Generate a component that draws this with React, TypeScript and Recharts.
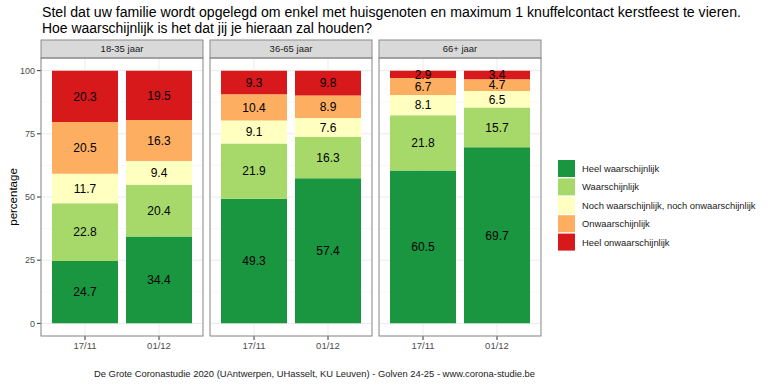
import { BarChart, Bar, XAxis, YAxis, CartesianGrid, LabelList } from 'recharts';

const ageGroups = ['18-35 jaar', '36-65 jaar', '66+ jaar'];
const waves = ['17/11', '01/12'];

// values per age group, [17/11, 01/12]
const heelWaarschijnlijk = [[24.7, 34.4], [49.3, 57.4], [60.5, 69.7]];
const waarschijnlijk = [[22.8, 20.4], [21.9, 16.3], [21.8, 15.7]];
const noch = [[11.7, 9.4], [9.1, 7.6], [8.1, 6.5]];
const onwaarschijnlijk = [[20.5, 16.3], [10.4, 8.9], [6.7, 4.7]];
const heelOnwaarschijnlijk = [[20.3, 19.5], [9.3, 9.8], [2.9, 3.4]];

const yTicks = [0, 25, 50, 75, 100];
const minorTicks = [12.5, 37.5, 62.5, 87.5];

const series = [
  { key: 'hw', name: 'Heel waarschijnlijk', color: '#1a9641', values: heelWaarschijnlijk },
  { key: 'w', name: 'Waarschijnlijk', color: '#a6d96a', values: waarschijnlijk },
  { key: 'n', name: 'Noch waarschijnlijk, noch onwaarschijnlijk', color: '#ffffbf', values: noch },
  { key: 'o', name: 'Onwaarschijnlijk', color: '#fdae61', values: onwaarschijnlijk },
  { key: 'ho', name: 'Heel onwaarschijnlijk', color: '#d7191c', values: heelOnwaarschijnlijk },
];

const panelLefts = [41, 210, 379];
const PANEL_W = 162;
const PANEL_TOP = 58;
const PANEL_H = 278;
const STRIP_H = 18;
const FONT = '"Liberation Sans", Arial, sans-serif';

function panelData(g: number) {
  return waves.map((wave, i) => {
    const row: Record<string, string | number> = { wave };
    series.forEach((s) => {
      row[s.key] = s.values[g][i];
    });
    return row;
  });
}

function Panel({ g }: { g: number }) {
  const first = g === 0;
  const left = first ? 0 : panelLefts[g];
  const width = first ? panelLefts[0] + PANEL_W : PANEL_W;
  return (
    <div style={{ position: 'absolute', left, top: PANEL_TOP }}>
      <BarChart
        width={width}
        height={PANEL_H + 30}
        data={panelData(g)}
        margin={{ top: 0, right: 0, bottom: 0, left: 0 }}
      >
        <CartesianGrid stroke="#f4f4f4" strokeWidth={0.6} vertical={false} horizontalValues={minorTicks} />
        <CartesianGrid stroke="#ebebeb" strokeWidth={1} />
        <XAxis
          dataKey="wave"
          height={30}
          axisLine={false}
          tickSize={4}
          tickLine={{ stroke: '#333' }}
          padding={{ left: 7, right: 7 }}
          tick={{ fontSize: 9.5, fill: '#4d4d4d', fontFamily: FONT }}
        />
        <YAxis
          hide={!first}
          width={first ? panelLefts[0] : 0}
          type="number"
          domain={[-5, 105]}
          ticks={yTicks}
          axisLine={false}
          tickSize={4}
          tickLine={{ stroke: '#333' }}
          tick={{ fontSize: 9, fill: '#4d4d4d', fontFamily: FONT }}
        />
        {series.map((s) => (
          <Bar key={s.key} dataKey={s.key} stackId="a" fill={s.color} barSize={66} isAnimationActive={false}>
            <LabelList
              dataKey={s.key}
              position="center"
              style={{ fontSize: 12, fill: '#000', fontFamily: FONT }}
            />
          </Bar>
        ))}
      </BarChart>
    </div>
  );
}

export default function App() {
  return (
    <div style={{ position: 'absolute', left: 0, top: 0, width: 770, height: 386, background: '#fff', fontFamily: FONT }}>
      {ageGroups.map((_, g) => (
        <Panel key={g} g={g} />
      ))}
      <svg width={770} height={386} style={{ position: 'absolute', left: 0, top: 0, pointerEvents: 'none' }}>
        <text x={42} y={17} fontSize={14} fill="#000" textLength={699} lengthAdjust="spacingAndGlyphs">
          Stel dat uw familie wordt opgelegd om enkel met huisgenoten en maximum 1 knuffelcontact kerstfeest te vieren.
        </text>
        <text x={42} y={33} fontSize={14} fill="#000" textLength={330} lengthAdjust="spacingAndGlyphs">
          Hoe waarschijnlijk is het dat jij je hieraan zal houden?
        </text>
        {ageGroups.map((label, g) => (
          <g key={label}>
            <rect
              x={panelLefts[g]}
              y={PANEL_TOP - STRIP_H}
              width={PANEL_W}
              height={STRIP_H}
              fill="#d9d9d9"
              stroke="#8a8a8a"
              strokeWidth={1}
            />
            <text
              x={panelLefts[g] + PANEL_W / 2}
              y={PANEL_TOP - STRIP_H / 2 + 3.3}
              fontSize={9.5}
              fill="#1a1a1a"
              textAnchor="middle"
            >
              {label}
            </text>
            <rect x={panelLefts[g]} y={PANEL_TOP} width={PANEL_W} height={PANEL_H} fill="none" stroke="#8a8a8a" strokeWidth={1} />
          </g>
        ))}
        <text x={0} y={0} fontSize={11.5} fill="#000" textAnchor="middle" transform="translate(17,197) rotate(-90)">
          percentage
        </text>
        {series.map((s, i) => (
          <g key={s.key}>
            <rect x={558} y={160 + i * 18.4} width={17} height={17} fill={s.color} />
            <text x={582} y={172 + i * 18.4} fontSize={9.4} fill="#1a1a1a">
              {s.name}
            </text>
          </g>
        ))}
        <text x={94} y={377} fontSize={9.5} fill="#1a1a1a" textLength={441} lengthAdjust="spacingAndGlyphs">
          De Grote Coronastudie 2020  (UAntwerpen, UHasselt, KU Leuven) - Golven 24-25 - www.corona-studie.be
        </text>
      </svg>
    </div>
  );
}
